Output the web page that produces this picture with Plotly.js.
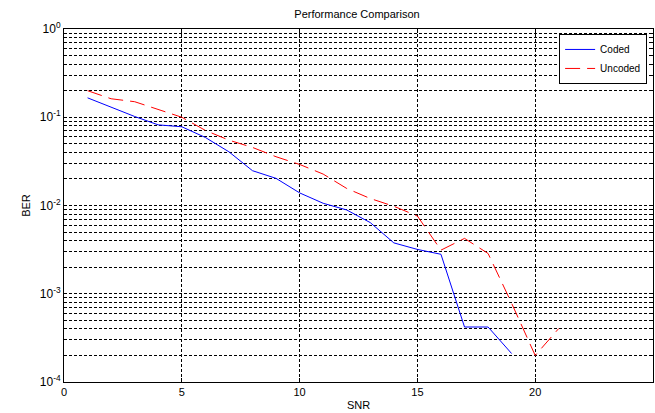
<!DOCTYPE html>
<html><head><meta charset="utf-8">
<script src="https://cdn.plot.ly/plotly-3.0.1.min.js"></script>
<style>html,body{margin:0;padding:0;background:#fff;}#chart{width:655px;height:413px;}</style>
</head><body><div id="chart"></div>
<script>
const snrCoded = [1,2,3,4,5,6,7,8,9,10,11,12,13,14,15,16,17,18,19];
const berCoded = [0.166,0.13,0.102,0.082,0.078,0.059,0.0406,0.0248,0.0203,0.0139,0.0106,0.0089,0.0064,0.00377,0.00318,0.0028,0.00042,0.00042,0.00021];
const snrUncoded = [1,2,3,4,5,6,7,8,9,10,11,12,13,14,15,16,17,18,19,20,21];
const berUncoded = [0.2,0.162,0.15,0.123,0.1,0.071,0.055,0.0455,0.0357,0.0292,0.0227,0.0156,0.012,0.0098,0.0076,0.00312,0.00424,0.00286,0.00078,0.0002,0.000404];
const decades = [1e-4,1e-3,1e-2,1e-1];
const decadeLabels = ['10<sup>-4</sup>','10<sup>-3</sup>','10<sup>-2</sup>','10<sup>-1</sup>'];
const topLabel = '10<sup>0</sup>';
const minorMultipliers = [1,2,3,4,5,6,7,8,9];
const xTickVals = [0,5,10,15,20,25];

const yTickVals = [];
const yTickText = [];
decades.forEach((d, i) => {
  minorMultipliers.forEach(m => {
    yTickVals.push(d * m);
    yTickText.push(m === 1 ? decadeLabels[i] : '');
  });
});
yTickVals.push(1); yTickText.push(topLabel);

const font = {family:'Liberation Sans, Arial, sans-serif', size:11, color:'#000'};
const data = [
  {x:snrCoded, y:berCoded, name:'Coded', mode:'lines', line:{color:'#0000ff', width:1}},
  {x:snrUncoded, y:berUncoded, name:'Uncoded', mode:'lines', line:{color:'#ff0000', width:1, dash:'15px,7px'}}
];
const layout = {
  width:655, height:413,
  margin:{l:64, r:2, t:29, b:31},
  paper_bgcolor:'#fff', plot_bgcolor:'#fff',
  font:font,
  title:{text:'Performance Comparison', font:{family:font.family, size:11, color:'#000'}, x:0.545, xanchor:'center', y:0.975, yanchor:'top'},
  showlegend:true,
  legend:{x:0.99, xanchor:'right', y:0.986, yanchor:'top', bgcolor:'#fff', bordercolor:'#000', borderwidth:1,
    font:{family:font.family, size:10, color:'#000'}, tracegroupgap:0, itemwidth:30, valign:'middle'},
  xaxis:{range:[0,25], tickvals:xTickVals, ticks:'inside', ticklen:4, tickcolor:'#000',
    showline:true, linecolor:'#000', linewidth:1, mirror:'ticks', zeroline:false,
    showgrid:true, gridcolor:'#000', griddash:'3px,2px', gridwidth:1,
    title:{text:'SNR', font:{family:font.family, size:11, color:'#000'}, standoff:4},
    tickfont:{family:font.family, size:11, color:'#000'}},
  yaxis:{type:'log', range:[-4,0], tickmode:'array', tickvals:yTickVals, ticktext:yTickText, ticks:'inside', ticklen:3, tickcolor:'#000',
    showline:true, linecolor:'#000', linewidth:1, mirror:'ticks', zeroline:false,
    showgrid:true, gridcolor:'#000', griddash:'3px,2px', gridwidth:1,
    title:{text:'BER', font:{family:font.family, size:11, color:'#000'}, standoff:6},
    tickfont:{family:font.family, size:12, color:'#000'}}
};
Plotly.newPlot('chart', data, layout, {displayModeBar:false, staticPlot:true});
</script></body></html>
